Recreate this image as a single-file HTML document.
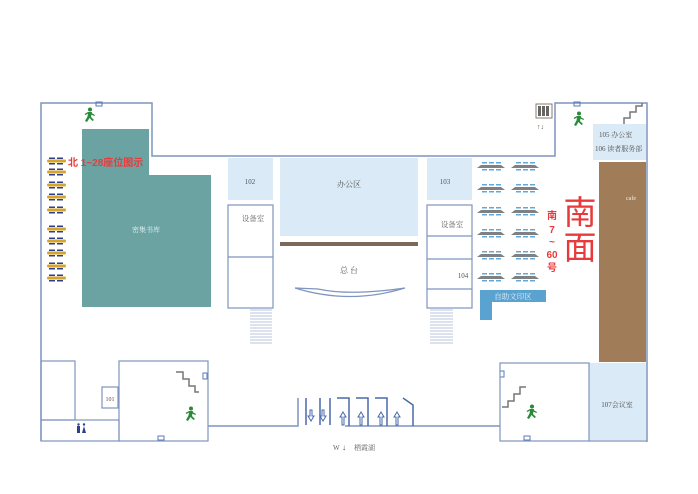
<!DOCTYPE html>
<html><head><meta charset="utf-8"><style>
html,body{margin:0;padding:0;background:#fff;}
svg{display:block;font-family:"Liberation Serif","Noto Serif CJK SC",serif;}
.s{font-family:"Liberation Sans","Noto Sans CJK SC",sans-serif;}
</style></head><body>
<svg width="698" height="494" viewBox="0 0 698 494" xmlns="http://www.w3.org/2000/svg">
<defs>
<g id="seat"><rect x="0" y="-1.5" width="19" height="3" rx="1.5" fill="#d4a52a"/><rect x="2" y="-3.5" width="6" height="1.5" fill="#2f3f8f"/><rect x="10" y="-3.5" width="6" height="1.5" fill="#2f3f8f"/><rect x="2" y="2" width="6" height="1.5" fill="#2f3f8f"/><rect x="10" y="2" width="6" height="1.5" fill="#2f3f8f"/></g>
<g id="tbl"><polygon points="0,3 4,0 24,0 28,3" fill="#808080"/><rect x="5" y="-3" width="5" height="1.5" fill="#5fa8d8"/><rect x="12" y="-3" width="5" height="1.5" fill="#5fa8d8"/><rect x="19" y="-3" width="5" height="1.5" fill="#5fa8d8"/><rect x="5" y="4" width="5" height="1.5" fill="#5fa8d8"/><rect x="12" y="4" width="5" height="1.5" fill="#5fa8d8"/><rect x="19" y="4" width="5" height="1.5" fill="#5fa8d8"/></g>
<g id="run" fill="#2a8a3a"><circle cx="8" cy="1.5" r="2"/><path d="M6 4 L10 4 L9 9 L12 12 L10.5 13 L7.5 10 L5 14 L3 13 L5.5 8.5 L6 5.5 L3.5 7 L2.5 6 Z"/><path d="M9.5 5 L13 7 L12.5 8 L9 6.5Z"/></g>
</defs>
<g fill="none" stroke="#7f94bf" stroke-width="1.5">
<path d="M41 441 V103 H152 V156 H555 V103 H647 V442"/>
</g>
<!-- teal stack -->
<polygon points="82,129 149,129 149,175 211,175 211,307 82,307" fill="#6ba3a3"/>
<text x="146" y="232" font-size="7" fill="#e8f0f0" text-anchor="middle">密集书库</text>
<!-- light blue rooms -->
<rect x="228" y="158" width="45" height="42" fill="#daeaf6"/><text x="250" y="184" font-size="7" fill="#555" text-anchor="middle">102</text>
<rect x="280" y="158" width="138" height="78" fill="#daeaf6"/><text x="349" y="187" font-size="8" fill="#555" text-anchor="middle">办公区</text>
<rect x="280" y="242" width="138" height="4" fill="#7a6a57"/>
<rect x="427" y="158" width="45" height="42" fill="#daeaf6"/><text x="445" y="184" font-size="7" fill="#555" text-anchor="middle">103</text>
<g fill="none" stroke="#7f94bf" stroke-width="1.2">
<rect x="228" y="205" width="45" height="103"/><line x1="228" y1="257" x2="273" y2="257"/>
<rect x="427" y="205" width="45" height="103"/><line x1="427" y1="236" x2="472" y2="236"/><line x1="427" y1="259" x2="472" y2="259"/><line x1="427" y1="289" x2="472" y2="289"/>
<path d="M295 288 Q350 305 405 288 Q350 296 318 289 Z"/>
</g>
<text x="253" y="221" font-size="7.5" fill="#666" text-anchor="middle">设备室</text>
<text x="452" y="227" font-size="7.5" fill="#666" text-anchor="middle">设备室</text>
<text x="463" y="278" font-size="7" fill="#555" text-anchor="middle">104</text>
<text x="349" y="273" font-size="8" fill="#555" text-anchor="middle">总 台</text>
<g stroke="#b8c4dc" stroke-width="1"><path d="M250 310 H272 M250 313 H272 M250 316 H272 M250 319 H272 M250 322 H272 M250 325 H272 M250 328 H272 M250 331 H272 M250 334 H272 M250 337 H272 M250 340 H272 M250 343 H272"/>
<path d="M430 310 H453 M430 313 H453 M430 316 H453 M430 319 H453 M430 322 H453 M430 325 H453 M430 328 H453 M430 331 H453 M430 334 H453 M430 337 H453 M430 340 H453 M430 343 H453"/></g>
<!-- seats -->
<use href="#seat" x="47" y="161"/><use href="#seat" x="47" y="172"/><use href="#seat" x="47" y="185"/><use href="#seat" x="47" y="197"/><use href="#seat" x="47" y="210"/>
<use href="#seat" x="47" y="229"/><use href="#seat" x="47" y="241"/><use href="#seat" x="47" y="253"/><use href="#seat" x="47" y="266"/><use href="#seat" x="47" y="278"/>
<text x="68" y="166" font-size="10" font-weight="bold" fill="#e83a3a" class="s">北 1~28座位图示</text>
<!-- tables -->
<g><use href="#tbl" x="477" y="165"/><use href="#tbl" x="511" y="165"/><use href="#tbl" x="477" y="187"/><use href="#tbl" x="511" y="187"/><use href="#tbl" x="477" y="210"/><use href="#tbl" x="511" y="210"/><use href="#tbl" x="477" y="232"/><use href="#tbl" x="511" y="232"/><use href="#tbl" x="477" y="254"/><use href="#tbl" x="511" y="254"/><use href="#tbl" x="477" y="276"/><use href="#tbl" x="511" y="276"/></g>
<polygon points="480,290 546,290 546,302 492,302 492,320 480,320" fill="#5aa2d0"/>
<text x="513" y="299" font-size="7.5" fill="#e8f2fa" text-anchor="middle">自助文印区</text>
<g class="s" font-weight="bold" fill="#e83a3a" font-size="10" text-anchor="middle"><text x="552" y="219">南</text><text x="552" y="233">7</text><text x="552" y="245">~</text><text x="552" y="258">60</text><text x="552" y="271">号</text></g>
<text x="580" y="224" font-size="33" fill="#e83a3a" text-anchor="middle" class="s">南</text>
<text x="580" y="259" font-size="33" fill="#e83a3a" text-anchor="middle" class="s">面</text>
<rect x="593" y="124" width="53" height="36" fill="#daeaf6"/>
<text x="599" y="137" font-size="7" fill="#555">105  办公室</text><text x="595" y="151" font-size="7" fill="#555">106 读者服务部</text>
<rect x="599" y="162" width="47" height="200" fill="#a07c58"/>
<text x="631" y="200" font-size="6" fill="#eee" text-anchor="middle">cafe</text>
<rect x="589" y="363" width="57" height="77" fill="#daeaf6"/>
<text x="617" y="407" font-size="7" fill="#555" text-anchor="middle">107会议室</text>
<!-- elevator -->
<rect x="536" y="104" width="16" height="14" fill="none" stroke="#8b7b6b"/><g fill="#666"><rect x="538" y="106" width="3" height="10"/><rect x="542" y="106" width="3" height="10"/><rect x="546" y="106" width="3" height="10"/></g>
<text x="537" y="129" font-size="7" fill="#555">↑↓</text>
<!-- stairs -->
<path d="M624 124 V118 H630 V112 H636 V106 H642 V103" fill="none" stroke="#777" stroke-width="1.5"/>
<path d="M176 372 H183 V379 H189 V386 H195 V392 H199" fill="none" stroke="#777" stroke-width="1.5"/>
<path d="M502 407 H508 V401 H514 V394 H520 V387 H526" fill="none" stroke="#777" stroke-width="1.5"/>
<!-- exits -->
<use href="#run" x="82" y="108"/><use href="#run" x="571" y="112"/><use href="#run" x="183" y="407"/><use href="#run" x="524" y="405"/>
<!-- small door marks -->
<g fill="none" stroke="#5a78b8" stroke-width="1"><rect x="96" y="102" width="6" height="4"/><rect x="574" y="102" width="6" height="4"/><rect x="203" y="373" width="4" height="6"/><rect x="158" y="436" width="6" height="4"/><rect x="500" y="371" width="4" height="6"/><rect x="524" y="436" width="6" height="4"/></g>
<!-- bottom rooms -->
<g fill="none" stroke="#7f94bf" stroke-width="1.2">
<rect x="41" y="361" width="34" height="59"/><rect x="41" y="420" width="78" height="21"/><rect x="102" y="387" width="16" height="21"/><rect x="119" y="361" width="89" height="80"/>
<rect x="500" y="363" width="89" height="78"/><line x1="589" y1="441" x2="647" y2="441"/>
<path d="M208 426 H298 V398 M345 426 H500" stroke-width="1.5"/>
</g>
<text x="110" y="401" font-size="6" fill="#555" text-anchor="middle">101</text>
<g fill="#2f3f8f"><rect x="77" y="426" width="3" height="7"/><polygon points="82,433 84,426 86,433"/><circle cx="78.5" cy="424.5" r="1.2"/><circle cx="84" cy="424.5" r="1.2"/></g>
<g fill="none" stroke="#4a6aa8" stroke-width="1.5">
<path d="M306 398 V425 M320 398 V425 M330 398 V425"/>
<path d="M337 398 H349 V426 M356 398 H368 V426 M375 398 H387 V426"/><path d="M403 398 L413 405 V426"/>
</g>
<g fill="none" stroke="#4a6aa8" stroke-width="1"><path d="M310 410 V416 H308 L311 421 L314 416 H312 V410Z M322 410 V416 H320 L323 421 L326 416 H324 V410Z"/>
<path d="M342 425 V417 H340 L343 412 L346 417 H344 V425Z M360 425 V417 H358 L361 412 L364 417 H362 V425Z M380 425 V417 H378 L381 412 L384 417 H382 V425Z M396 425 V417 H394 L397 412 L400 417 H398 V425Z"/></g>
<text x="333" y="450" font-size="7" fill="#666">W</text><text x="342" y="450" font-size="8" fill="#2f3f8f">↓</text><text x="354" y="450" font-size="7" fill="#666">栖霞湖</text>
</svg>
</body></html>
